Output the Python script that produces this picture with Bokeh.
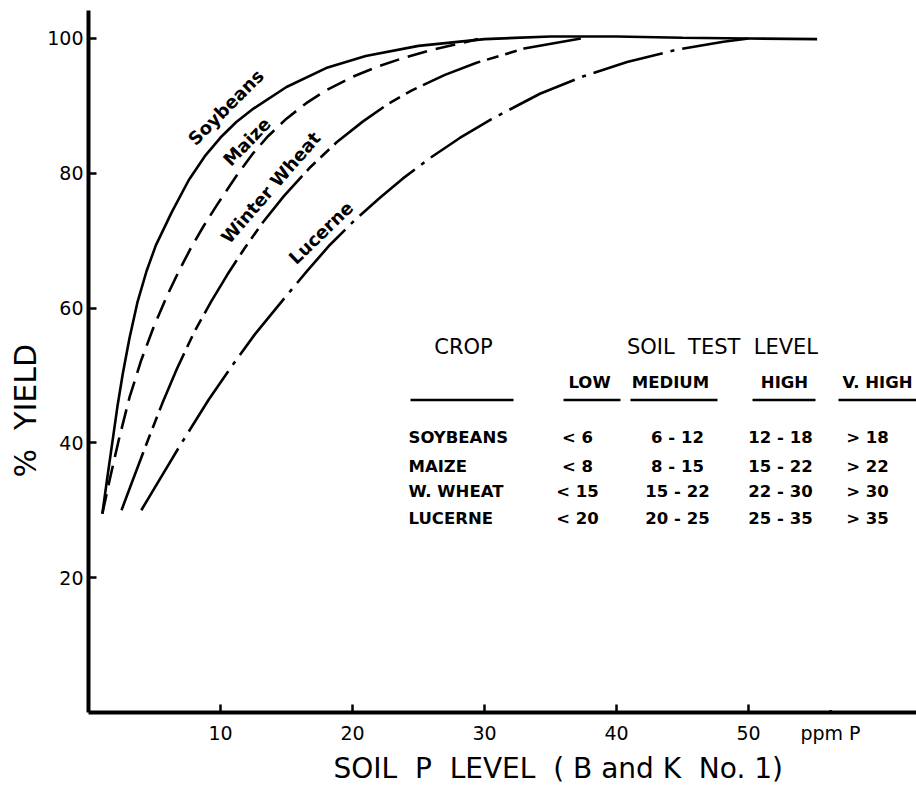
import math
from bokeh.plotting import figure
from bokeh.models import Range1d, Label, FixedTicker, Title, BoxAnnotation
from bokeh.core.properties import value
from bokeh.embed import file_html
from bokeh.resources import INLINE

# ---- data ----
soy_x = [1.05, 1.4, 1.8, 2.2, 2.6, 3.1, 3.7, 4.4, 5.1, 6.3, 7.6, 8.8, 10.0, 11.2, 12.5, 15.0, 18.0, 21.0, 25.0, 30.0, 35.0, 40.0, 45.0, 50.0, 55.2]
soy_y = [29.5, 34.5, 40.0, 45.5, 50.3, 55.5, 60.8, 65.5, 69.3, 74.2, 79.0, 82.5, 85.3, 87.6, 89.6, 92.8, 95.6, 97.4, 98.9, 99.9, 100.3, 100.3, 100.1, 100.0, 99.9]

maize_x = [1.05, 1.6, 2.3, 3.1, 4.0, 4.9, 5.9, 6.8, 7.7, 8.7, 9.7, 11.2, 12.4, 13.6, 15.0, 16.5, 18.0, 20.0, 22.0, 24.0, 26.0, 28.0, 29.5]
maize_y = [29.5, 34.5, 40.5, 46.7, 52.3, 57.0, 61.6, 65.3, 68.7, 72.1, 75.2, 79.6, 82.8, 85.5, 88.1, 90.4, 92.3, 94.3, 95.9, 97.2, 98.3, 99.2, 99.9]

wheat_x = [2.5, 3.3, 4.5, 5.6, 6.7, 8.0, 9.3, 10.5, 11.8, 13.2, 14.8, 16.8, 18.8, 20.8, 22.7, 24.5, 27.0, 29.4, 33.0, 37.3]
wheat_y = [30.0, 34.2, 40.4, 45.9, 51.0, 56.4, 61.0, 64.9, 68.8, 72.7, 76.6, 80.9, 84.6, 87.7, 90.3, 92.3, 94.6, 96.4, 98.5, 100.0]

luc_x = [4.0, 5.0, 6.9, 9.1, 10.9, 12.6, 14.9, 16.6, 18.3, 20.2, 22.1, 23.8, 25.9, 28.1, 30.5, 34.2, 37.5, 40.8, 44.5, 48.1, 50.0]
luc_y = [30.0, 33.3, 39.5, 46.4, 51.5, 56.1, 61.6, 65.6, 69.4, 73.1, 76.4, 79.2, 82.3, 85.2, 88.0, 91.8, 94.4, 96.5, 98.3, 99.5, 100.0]

curve_names = ["Soybeans", "Maize", "Winter Wheat", "Lucerne"]

x_ticks = [10, 20, 30, 40, 50]
y_ticks = [20, 40, 60, 80, 100]
x_unit_label = "ppm P"

table_crops = ["SOYBEANS", "MAIZE", "W. WHEAT", "LUCERNE"]
table_low = ["< 6", "< 8", "< 15", "< 20"]
table_medium = ["6 - 12", "8 - 15", "15 - 22", "20 - 25"]
table_high = ["12 - 18", "15 - 22", "22 - 30", "25 - 35"]
table_vhigh = ["> 18", "> 22", "> 30", "> 35"]
level_names = ["LOW", "MEDIUM", "HIGH", "V. HIGH"]

FONT = "DejaVu Sans"
NB = "\u00a0"

# ---- figure ----
W, H = 916, 788
ML, MR, MT, MB = 88, 0, 10, 75
fw, fh = W - ML - MR, H - MT - MB
XPX, YPX = 13.2, 6.75

p = figure(width=W, height=H, output_backend="svg", toolbar_location=None,
           x_range=Range1d(0, fw / XPX), y_range=Range1d(0, fh / YPX),
           min_border_left=ML, min_border_right=MR, min_border_top=MT, min_border_bottom=MB)
p.outline_line_color = None
p.grid.visible = False
p.background_fill_color = "white"
p.border_fill_color = "white"

for ax in (p.xaxis[0], p.yaxis[0]):
    ax.axis_line_width = 4
    ax.axis_line_color = "black"
    ax.major_tick_in = 8
    ax.major_tick_out = 0
    ax.major_tick_line_width = 2.5
    ax.minor_tick_line_color = None
    ax.major_label_text_font = FONT
    ax.major_label_text_font_size = "19px"
    ax.major_label_text_color = "black"

# unit label "ppm P" sits in the x tick-label row, right of 50
unit_pos = (830 - ML) / XPX
p.xaxis[0].ticker = FixedTicker(ticks=x_ticks + [unit_pos])
p.xaxis[0].major_label_overrides = {unit_pos: x_unit_label}
p.yaxis[0].ticker = FixedTicker(ticks=y_ticks)
p.xaxis[0].major_label_standoff = 9
p.yaxis[0].major_label_standoff = 5
# hide the tick mark that belongs to the unit label
p.add_layout(BoxAnnotation(left=unit_pos - 0.3, right=unit_pos + 0.3,
                           bottom=2.4 / YPX, top=11.5 / YPX,
                           fill_color="white", fill_alpha=1.0, line_color=None))

LW = 2.6
p.line(soy_x, soy_y, line_width=LW, color="black")
p.line(maize_x, maize_y, line_width=LW, color="black", line_dash="20 9")
p.line(wheat_x, wheat_y, line_width=LW, color="black", line_dash="62 7 12 7 12 7")
p.line(luc_x, luc_y, line_width=LW, color="black", line_dash="72 8 4 8")

# curve labels
lab_pos = [(10.4, 89.8, 45), (12.0, 84.7, 46), (13.8, 77.9, 49), (17.6, 71.2, 44)]
for name, (lx, ly, ang) in zip(curve_names, lab_pos):
    p.add_layout(Label(x=lx, y=ly, text=name, angle=math.radians(ang),
                       text_align="center", text_baseline="middle", text_color="black",
                       text_font=FONT, text_font_size="18px", text_font_style="bold"))

# axis titles
x_title = "SOIL" + NB * 2 + "P" + NB * 2 + "LEVEL" + NB * 2 + "( B and K" + NB * 2 + "No. 1)"
y_title = "%" + NB * 2 + "YIELD"
p.add_layout(Title(text=x_title, align="left", offset=245, standoff=7,
                   text_font=FONT, text_font_size="28px", text_font_style="normal",
                   text_color="black"), "below")
p.add_layout(Title(text=y_title, align="left", offset=235, standoff=3,
                   text_font=FONT, text_font_size="30px", text_font_style="normal",
                   text_color="black"), "left")

# table
def dx(px):
    return (px - 88) / XPX

def dy(py):
    return (713 - py) / YPX

p.text(x=[dx(463), dx(722)], y=[dy(347)] * 2, text=["CROP", "SOIL" + NB * 2 + "TEST" + NB * 2 + "LEVEL"],
       text_align="center", text_baseline="middle", text_font=value(FONT), text_font_size="21px")
p.text(x=[dx(589), dx(670), dx(784), dx(877)], y=[dy(383)] * 4, text=level_names,
       text_align="center", text_baseline="middle", text_font=value(FONT), text_font_size="16.5px",
       text_font_style="bold")
p.segment(x0=[dx(410), dx(563), dx(630), dx(752), dx(838)], y0=[dy(400)] * 5,
          x1=[dx(513), dx(620), dx(717), dx(815), dx(916)], y1=[dy(400)] * 5,
          line_width=2.5, color="black")
row_y = [dy(v) for v in (438, 467, 492, 519)]
cols = [(table_crops, dx(408), "left"), (table_low, dx(577), "center"),
        (table_medium, dx(677), "center"), (table_high, dx(780), "center"),
        (table_vhigh, dx(867), "center")]
for vals, cx, al in cols:
    p.text(x=[cx] * len(vals), y=row_y, text=vals, text_align=al, text_baseline="middle",
           text_font=value(FONT), text_font_size="16.5px", text_font_style="bold")

open("out.html", "w").write(file_html(p, INLINE))
